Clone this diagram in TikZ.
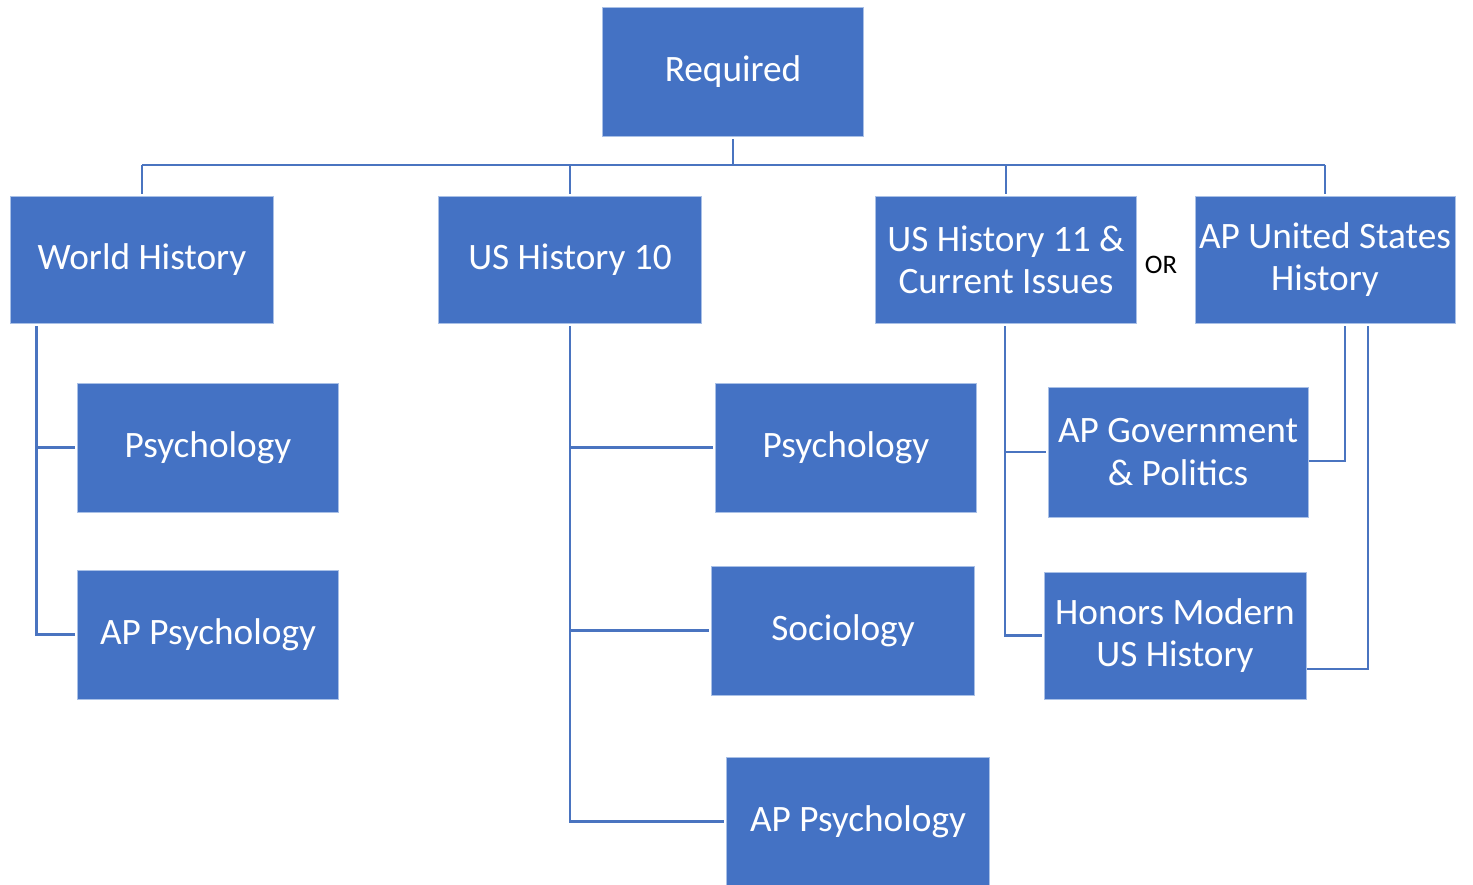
\documentclass[tikz,border=0pt]{standalone}
\usepackage{fontspec}
\setmainfont{Carlito}
\definecolor{boxblue}{HTML}{4472C4}
\definecolor{boxedge}{HTML}{A9C0E6}
\definecolor{linkblue}{HTML}{4A74C0}
\begin{document}
\begin{tikzpicture}[x=0.01cm,y=-0.01cm,
  course/.style={rectangle,fill=boxblue,draw=boxedge,line width=0.25pt,
    text=white,align=center,inner sep=0pt,
    font=\fontsize{10.6pt}{12pt}\selectfont},
  link/.style={draw=linkblue,line width=0.65pt,shorten <=0.03cm,shorten >=0.02cm}]
\useasboundingbox (0,0) rectangle (1473,884);

\node[course,minimum width=2.6cm,minimum height=1.29cm] (req) at (733,71.5) {Required};
\node[course,minimum width=2.62cm,minimum height=1.27cm] (wh) at (142,259.5) {World History};
\node[course,minimum width=2.62cm,minimum height=1.27cm] (us10) at (570,259.5) {US History 10};
\node[course,minimum width=2.6cm,minimum height=1.27cm] (us11) at (1006,259.5) {US History 11 \&\\Current Issues};
\node[course,minimum width=2.6cm,minimum height=1.27cm] (apus) at (1325,259.5) {AP United States\\History};
\node[font=\fontsize{7.6pt}{9pt}\selectfont] (or) at (1161,265) {OR};

\node[course,minimum width=2.6cm,minimum height=1.29cm] (psy1) at (208,447.5) {Psychology};
\node[course,minimum width=2.6cm,minimum height=1.29cm] (appsy1) at (208,634.5) {AP Psychology};

\node[course,minimum width=2.6cm,minimum height=1.29cm] (psy2) at (846,447.5) {Psychology};
\node[course,minimum width=2.62cm,minimum height=1.29cm] (soc) at (843,630.5) {Sociology};
\node[course,minimum width=2.62cm,minimum height=1.29cm] (appsy2) at (858,821.5) {AP Psychology};

\node[course,minimum width=2.6cm,minimum height=1.30cm] (apgov) at (1178,452) {AP Government\\\& Politics};
\node[course,minimum width=2.62cm,minimum height=1.27cm] (hon) at (1175,635.5) {Honors Modern\\US History};

\coordinate (bus) at (733,165);

% top tree
\draw[link,shorten >=0pt] (req.south) -- (req.south |- bus);
\draw[link,shorten <=0pt] (wh.north |- bus) -- (wh.north);
\draw[link,shorten <=0pt] (us10.north |- bus) -- (us10.north);
\draw[link,shorten <=0pt] (us11.north |- bus) -- (us11.north);
\draw[link,shorten <=0pt] (apus.north |- bus) -- (apus.north);
\draw[draw=linkblue,line width=0.65pt] (wh.north |- bus) -- (apus.north |- bus);

% world history
\draw[link] ([xshift=0.26cm]wh.south west) |- (psy1.west);
\draw[link] ([xshift=0.26cm]wh.south west) |- (appsy1.west);

% us history 10
\draw[link] (us10.south) |- (psy2.west);
\draw[link] (us10.south) |- (soc.west);
\draw[link] (us10.south) |- (appsy2.west);

% us history 11
\draw[link] ([xshift=-0.01cm]us11.south) |- (apgov.west);
\draw[link] ([xshift=-0.01cm]us11.south) |- (hon.west);

% ap us history
\draw[link,shorten >=0pt] ([xshift=0.2cm]apus.south) |- ([yshift=-0.09cm]apgov.east);
\draw[link,shorten >=0pt] ([xshift=0.43cm]apus.south) |- ([yshift=-0.335cm]hon.east);
\end{tikzpicture}
\end{document}
